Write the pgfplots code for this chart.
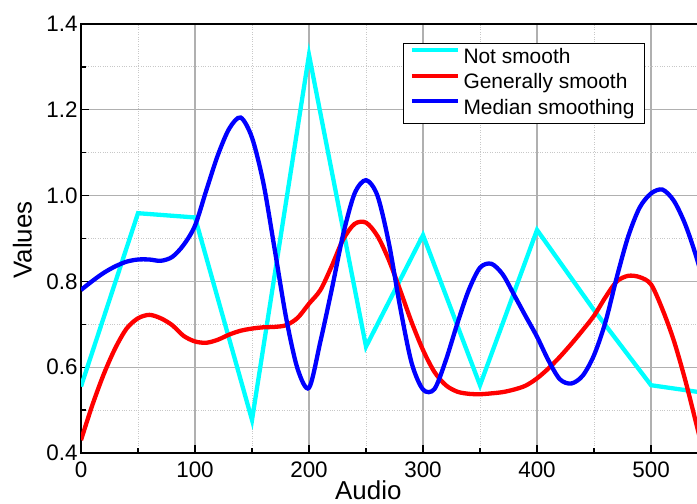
\documentclass[border=0pt]{standalone}
\usepackage{pgfplots}
\pgfplotsset{compat=1.18}
\usepackage{fontspec}
\setmainfont{Liberation Sans}
\definecolor{cyanc}{RGB}{0,255,255}
\definecolor{redc}{RGB}{255,0,0}
\definecolor{bluec}{RGB}{0,0,255}
\definecolor{majg}{RGB}{176,176,176}
\definecolor{ming}{RGB}{200,200,200}
\begin{document}
\begin{tikzpicture}
\useasboundingbox (0,0) rectangle (697bp,504bp);
\clip (0,0) rectangle (697bp,504bp);
\begin{axis}[
  scale only axis, width=617.9bp, height=429bp,
  at={(81bp,51bp)}, anchor=south west,
  xmin=0, xmax=542, ymin=0.4, ymax=1.4,
  xtick={0,100,200,300,400,500},
  ytick={0.4,0.6,0.8,1.0,1.2,1.4},
  minor x tick num=1, minor y tick num=1,
  tick align=inside, tick pos=left,
  major tick length=8bp, minor tick length=5bp,
  every tick/.style={black, line width=1.3bp},
  grid=both,
  major grid style={color=majg, line width=1.2bp},
  minor grid style={color=ming, dotted, line width=0.9bp},
  axis line style={black, line width=1.6bp},
  tick label style={font=\fontsize{22.5}{27}\selectfont},
  /pgf/number format/assume math mode=true,
  yticklabel style={/pgf/number format/.cd, fixed, fixed zerofill, precision=1},
  xticklabel style={yshift=-5bp},
  xlabel={Audio}, ylabel={Values},
  label style={font=\fontsize{26}{31}\selectfont},
  xlabel style={at={(axis description cs:0.465,-0.1085)}, anchor=base},
  ylabel style={at={(axis description cs:-0.0798,0.4965)}, anchor=base},
  legend style={at={(axis description cs:0.5216,0.9564)}, anchor=north west,
    draw=black, line width=0.8bp, fill=white,
    font=\fontsize{21}{25}\selectfont,
    inner xsep=6bp, inner ysep=2bp, row sep=0bp,
    nodes={inner xsep=3.5bp, inner ysep=3bp, text height=15bp, text depth=4.5bp}},
  legend cell align=left,
  legend image code/.code={\draw[#1, line width=4.3bp] (0bp,7.5bp) -- (46bp,7.5bp);},
]
\addplot[color=cyanc, line width=4.3bp] coordinates {
(0,0.555) (50,0.959) (100,0.949) (150,0.477) (200,1.328) (250,0.648)
(300,0.908) (350,0.558) (400,0.920) (450,0.733) (500,0.558) (550,0.539)};
\addlegendentry{Not smooth}
\addplot[color=redc, line width=4.3bp, smooth] coordinates {
(0,0.430) (10,0.512) (20,0.584) (30,0.644) (40,0.690) (50,0.714) (60,0.722)
(70,0.714) (80,0.698) (90,0.673) (100,0.660) (110,0.657) (120,0.664) (130,0.676)
(140,0.685) (150,0.690) (160,0.693) (170,0.694) (180,0.698) (190,0.715) (200,0.748)
(210,0.780) (220,0.836) (230,0.898) (240,0.934) (250,0.937) (260,0.906) (270,0.850)
(280,0.779) (290,0.705) (300,0.640) (310,0.589) (320,0.558) (330,0.543) (340,0.538)
(350,0.537) (360,0.539) (370,0.542) (380,0.548) (390,0.557) (400,0.574) (410,0.597)
(420,0.624) (430,0.654) (440,0.686) (450,0.720) (460,0.763) (470,0.800) (480,0.813)
(490,0.810) (500,0.793) (510,0.735) (520,0.662) (530,0.570) (540,0.465) (550,0.360)};
\addlegendentry{Generally smooth}
\addplot[color=bluec, line width=4.3bp, smooth] coordinates {
(0,0.780) (10,0.801) (20,0.820) (30,0.835) (40,0.846) (50,0.851) (60,0.851)
(70,0.848) (80,0.857) (90,0.885) (100,0.930) (110,1.013) (120,1.094) (130,1.156)
(140,1.182) (150,1.135) (160,1.029) (170,0.873) (180,0.714) (190,0.596) (200,0.552)
(210,0.660) (220,0.782) (230,0.910) (240,1.005) (250,1.036) (260,1.000) (270,0.890)
(280,0.739) (290,0.610) (300,0.548) (310,0.549) (320,0.616) (330,0.701) (340,0.779)
(350,0.832) (360,0.841) (370,0.816) (380,0.768) (390,0.719) (400,0.671) (410,0.616)
(420,0.572) (430,0.562) (440,0.580) (450,0.628) (460,0.705) (470,0.810) (480,0.905)
(490,0.972) (500,1.005) (510,1.014) (520,0.988) (530,0.933) (540,0.855) (550,0.760)};
\addlegendentry{Median smoothing}
\end{axis}
\end{tikzpicture}
\end{document}
